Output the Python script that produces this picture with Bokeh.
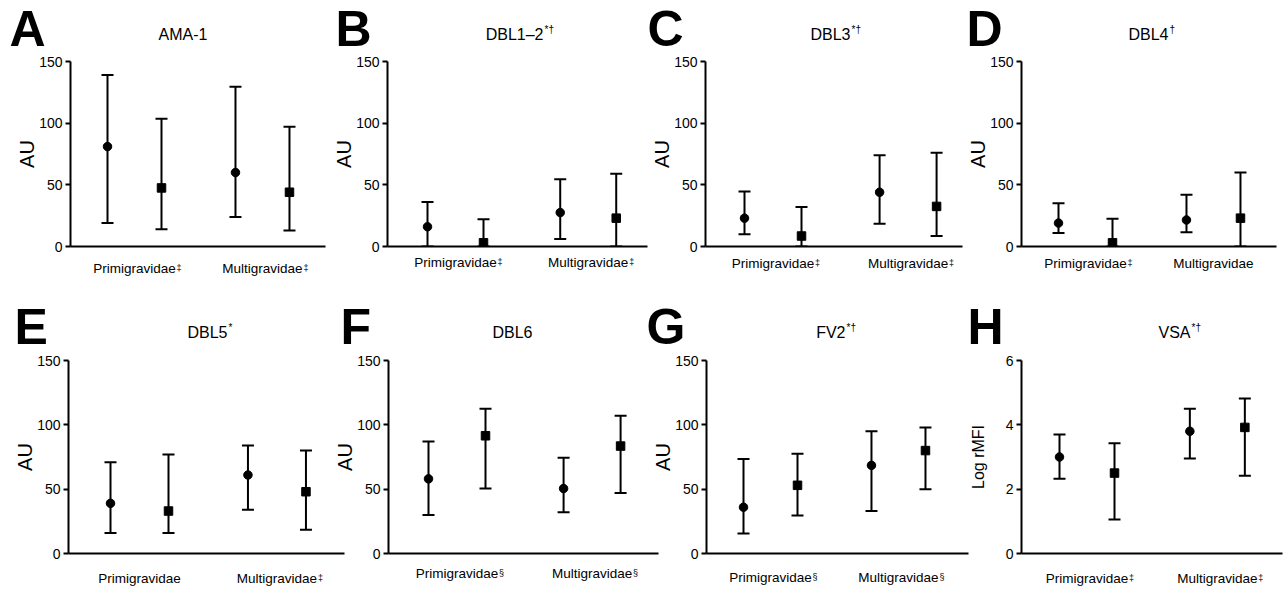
from bokeh.plotting import figure
from bokeh.models import Range1d, FixedTicker, Whisker, TeeHead, ColumnDataSource
from bokeh.core.properties import value
from bokeh.layouts import row, column
from bokeh.embed import file_html
from bokeh.resources import INLINE

FONT = "Liberation Sans"

# ---------------- data ----------------
letters = ["A", "B", "C", "D", "E", "F", "G", "H"]
titles = ["AMA-1", "DBL1\u20132", "DBL3", "DBL4", "DBL5", "DBL6", "FV2", "VSA"]
title_sups = ["", "*\u2020", "*\u2020", "\u2020", "*", "", "*\u2020", "*\u2020"]
y_labels = ["AU", "AU", "AU", "AU", "AU", "AU", "AU", "Log rMFI"]
y_max = [150, 150, 150, 150, 150, 150, 150, 6]
y_ticks = [[0, 50, 100, 150]] * 7 + [[0, 2, 4, 6]]
categories = ["Primigravidae", "Multigravidae"]
primi_sups = ["\u2021", "\u2021", "\u2021", "\u2021", "", "\u00a7", "\u00a7", "\u2021"]
multi_sups = ["\u2021", "\u2021", "\u2021", "", "\u2021", "\u00a7", "\u00a7", "\u2021"]

# circles (first group) and squares (second group): median, lower, upper
circ_pri_med = [81, 16, 23, 19, 39, 58, 36, 3.0]
circ_pri_lo = [19, 0, 10, 11, 16, 30, 15.5, 2.32]
circ_pri_hi = [139, 36, 44.5, 35, 71, 87, 73.5, 3.7]
sq_pri_med = [47.5, 3, 8.5, 3, 33, 91.5, 53, 2.5]
sq_pri_lo = [14, 0, 0, 0, 16, 50.5, 29.5, 1.06]
sq_pri_hi = [103.5, 22, 32, 22.5, 77, 112.5, 77.5, 3.43]
circ_mul_med = [60, 27.5, 44, 21.5, 61, 50.5, 68.5, 3.8]
circ_mul_lo = [24, 6, 18.5, 11.5, 34, 32, 33, 2.95]
circ_mul_hi = [129.5, 54.5, 74, 42, 84, 74.5, 95, 4.5]
sq_mul_med = [44, 23, 32.5, 23, 48, 83.5, 80, 3.92]
sq_mul_lo = [13, 0, 8.5, 0, 18.5, 47, 50, 2.42]
sq_mul_hi = [97, 59, 76, 60, 80, 107, 98, 4.82]

# x slots of the four series and of the two category labels
x_circ_pri, x_sq_pri, x_circ_mul, x_sq_mul = 0, 100, 237, 337
group_centers = [50, 287]

# ---------------- layout / style ----------------
COL_W = 318
border_left = [70, 69, 69, 67, 68, 70, 70, 67]
frame_w = [255, 260, 257, 255, 276, 270, 262, 261]
unit_px = [54, 56, 57, 54, 58, 57, 54, 55]
first_px = [37, 40, 39, 37, 42, 40, 37, 38]
letter_dx = [-61, -52, -58, -55, -54, -48, -60, -54]
title_junction = [137, 156, 145, 147, 159, 144, 139, 169]
label_drop = [17, 11, 12, 12, 20, 15, 19, 20]
ylabel_size = ["20px"] * 7 + ["16px"]
ylabel_standoff = [-2, -2, -2, -2, -2, -2, -2, 16]
header_h = [52, 53]       # space the header takes in the layout
HEADER_CANVAS = 72        # drawn height (overlaps the transparent plot below)
footer_h = [49, 34]       # footer canvas height, measured from axis + 3 px
FOOT_OVERLAP = 8          # footer canvas reaches up over the plot's bottom border
plot_top = 9
plot_bottom = 3 + FOOT_OVERLAP
row_frame_h = [185, 193]
sup_dx = [42, 41]

rows = []
for r in range(2):
    headers, plots, footers = [], [], []
    for c in range(4):
        i = 4 * r + c
        bl, fw = border_left[i], frame_w[i]
        width = bl + fw + 2
        right = COL_W - width if c < 3 else 0
        x_start = -first_px[i] / unit_px[i] * 100
        x_range = Range1d(x_start, x_start + fw / unit_px[i] * 100)

        # ---- header strip: panel letter and title ----
        hw = COL_W if c < 3 else width
        h = figure(width=hw, height=HEADER_CANVAS, output_backend="svg",
                   toolbar_location=None, x_range=Range1d(0, hw),
                   y_range=Range1d(HEADER_CANVAS, 0), min_border=0,
                   x_axis_location=None, y_axis_location=None)
        h.margin = (0, 0, header_h[r] - HEADER_CANVAS, 0)
        h.outline_line_color = None
        h.background_fill_alpha = 0
        h.border_fill_alpha = 0
        h.grid.visible = False
        h.text(x=[bl + letter_dx[i]], y=[28.5], text=[letters[i]],
               text_font=value(FONT), text_font_style="bold", text_font_size="50px",
               text_align="left", text_baseline="alphabetic", text_color="black")
        h.text(x=[bl + title_junction[i]], y=[34], text=[titles[i]],
               text_font=value(FONT), text_font_size="16px", text_align="right",
               text_baseline="alphabetic", text_color="black")
        if title_sups[i]:
            h.text(x=[bl + title_junction[i] + 1], y=[29.2], text=[title_sups[i]],
                   text_font=value(FONT), text_font_size="10px", text_align="left",
                   text_baseline="alphabetic", text_color="black")
        headers.append(h)

        # ---- plot ----
        fh = row_frame_h[r]
        p = figure(width=width, height=plot_top + fh + plot_bottom, output_backend="svg",
                   toolbar_location=None, x_range=x_range, y_range=Range1d(0, y_max[i]),
                   min_border_left=bl, min_border_right=2, min_border_top=plot_top,
                   min_border_bottom=plot_bottom)
        p.margin = (0, right, 0, 0)
        p.outline_line_color = None
        p.background_fill_alpha = 0
        p.border_fill_alpha = 0
        p.xgrid.visible = False
        p.ygrid.visible = False
        p.xaxis.ticker = FixedTicker(ticks=[])
        p.xaxis.major_tick_line_color = None
        p.xaxis.minor_tick_line_color = None
        p.xaxis.major_tick_out = 0
        p.xaxis.major_tick_in = 0
        p.xaxis.major_label_standoff = 0
        p.yaxis.ticker = FixedTicker(ticks=y_ticks[i])
        p.yaxis.major_tick_out = 5
        p.yaxis.major_tick_in = 0
        p.yaxis.minor_tick_line_color = None
        p.yaxis.major_label_standoff = 3
        p.yaxis.major_label_text_font_size = "14px"
        p.yaxis.axis_label = y_labels[i]
        p.yaxis.axis_label_text_font_size = ylabel_size[i]
        p.yaxis.axis_label_standoff = ylabel_standoff[i]
        for ax in (p.xaxis, p.yaxis):
            ax.axis_line_width = 2
            ax.axis_line_color = "black"
            ax.major_tick_line_width = 2
            ax.major_label_text_font = FONT
            ax.major_label_text_color = "black"
            ax.axis_label_text_font = FONT
            ax.axis_label_text_font_style = "normal"
            ax.axis_label_text_color = "black"

        src = ColumnDataSource(dict(
            x=[x_circ_pri, x_sq_pri, x_circ_mul, x_sq_mul],
            lo=[circ_pri_lo[i], sq_pri_lo[i], circ_mul_lo[i], sq_mul_lo[i]],
            hi=[circ_pri_hi[i], sq_pri_hi[i], circ_mul_hi[i], sq_mul_hi[i]],
        ))
        p.add_layout(Whisker(base="x", lower="lo", upper="hi", source=src,
                             dimension="height", line_color="black", line_width=2,
                             upper_head=TeeHead(size=12, line_width=2, line_color="black"),
                             lower_head=TeeHead(size=12, line_width=2, line_color="black")))
        p.scatter([x_circ_pri, x_circ_mul], [circ_pri_med[i], circ_mul_med[i]],
                  marker="circle", size=8.5, color="black")
        p.scatter([x_sq_pri, x_sq_mul], [sq_pri_med[i], sq_mul_med[i]],
                  marker="square", size=8.5, color="black")
        plots.append(p)

        # ---- footer strip: category labels on the same x scale ----
        fhh = footer_h[r]
        f = figure(width=width, height=fhh, output_backend="svg", toolbar_location=None,
                   x_range=x_range, y_range=Range1d(fhh, 0),
                   min_border_left=bl, min_border_right=2, min_border_top=0,
                   min_border_bottom=0, x_axis_location=None, y_axis_location=None)
        f.margin = (-FOOT_OVERLAP, right, 0, 0)
        f.outline_line_color = None
        f.background_fill_alpha = 0
        f.border_fill_alpha = 0
        f.grid.visible = False
        f.text(x=group_centers, y=[label_drop[i] + 1.6] * 2, text=categories,
               text_font=value(FONT), text_font_size="13.5px", text_align="center",
               text_baseline="alphabetic", text_color="black")
        for j, sups in enumerate((primi_sups, multi_sups)):
            if sups[i]:
                f.text(x=[group_centers[j]], y=[label_drop[i] + 1.3], text=[sups[i]],
                       x_offset=sup_dx[j], text_font=value(FONT), text_font_size="9px",
                       text_align="left", text_baseline="alphabetic", text_color="black")
        footers.append(f)
    rows += [row(*headers), row(*plots), row(*footers)]

layout = column(*rows)
open("out.html", "w").write(file_html(layout, INLINE))
